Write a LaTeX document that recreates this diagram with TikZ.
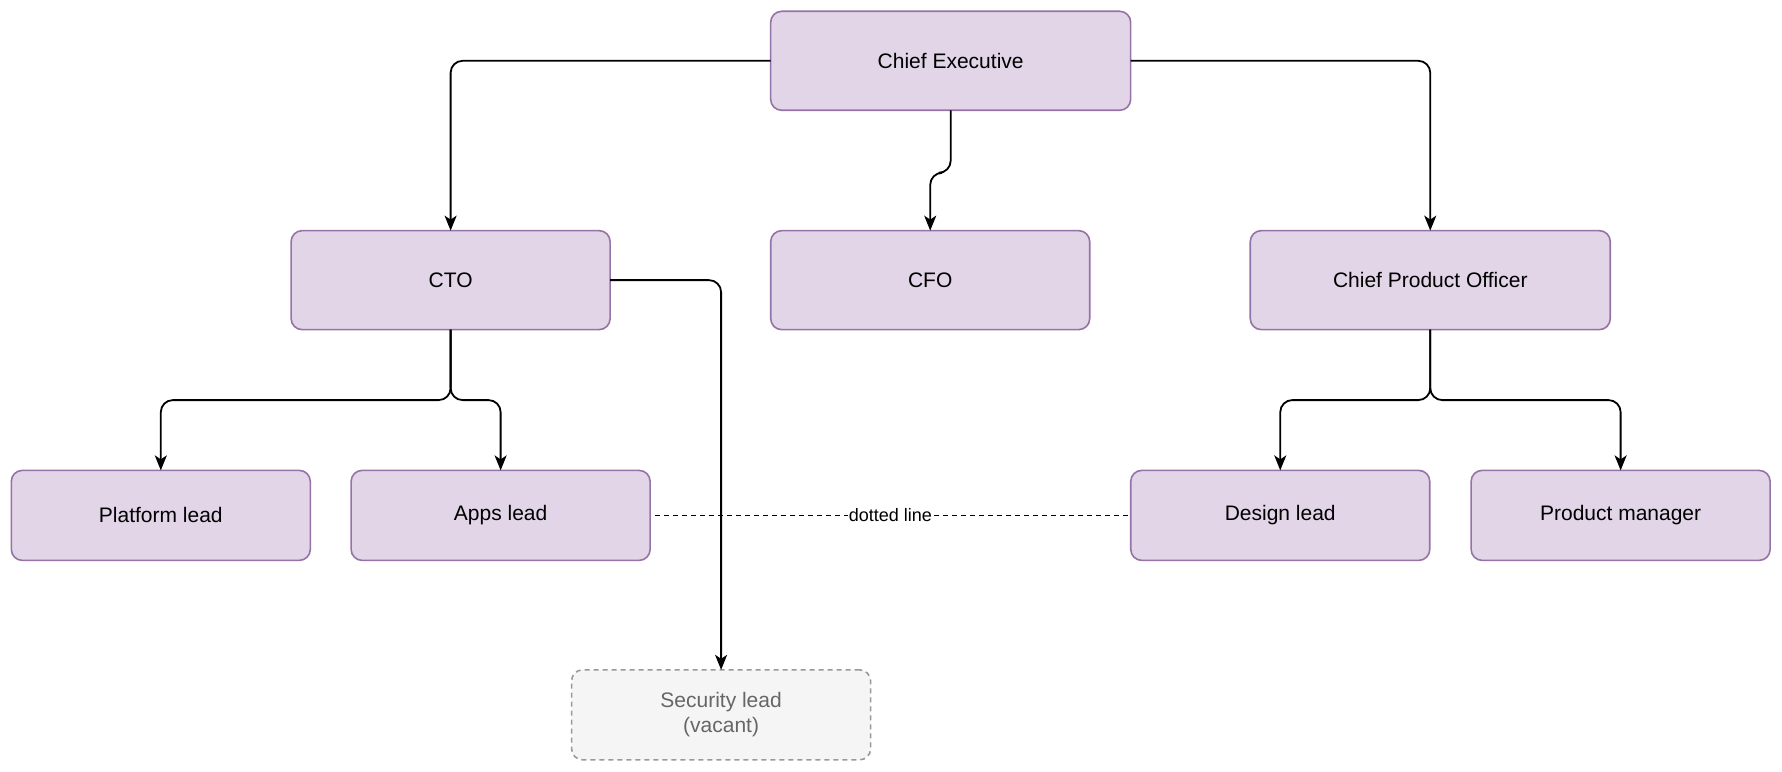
\documentclass[tikz,border=0pt]{standalone}
\usepackage{fontspec}
\setmainfont{Liberation Sans}
\usetikzlibrary{arrows.meta}
\definecolor{pfill}{HTML}{E1D5E7}
\definecolor{pdraw}{HTML}{9673A6}
\definecolor{gfill}{HTML}{F5F5F5}
\definecolor{gdraw}{HTML}{999999}
\definecolor{gtext}{HTML}{666666}
\begin{document}
\begin{tikzpicture}[x=1.1365pt,y=-1.1365pt,
  box/.style={draw=pdraw,fill=pfill,line width=1.6pt,rounded corners=11pt,inner sep=0pt,outer sep=0pt,
    font=\fontsize{21}{25}\selectfont,align=center},
  big/.style={box,minimum width=360pt,minimum height=99pt},
  mid/.style={box,minimum width=319pt,minimum height=99pt},
  leaf/.style={box,minimum width=299pt,minimum height=90pt},
  vac/.style={leaf,draw=gdraw,fill=gfill,text=gtext,dashed,dash pattern=on 5pt off 4pt},
  conn/.style={line width=1.8pt,rounded corners=12pt,-{Stealth[length=15pt,width=12pt,inset=4pt]}}]
\useasboundingbox (0,0) rectangle (1568,679);
\node[big] (ce) at (836.5,53.5) {Chief Executive};
\node[mid] (cto) at (396.5,246.5) {CTO};
\node[mid] (cfo) at (818.5,246.5) {CFO};
\node[big] (cpo) at (1258.5,246.5) {Chief Product Officer};
\node[leaf] (pl) at (141.5,453.5) {Platform lead};
\node[leaf] (al) at (440.5,453.5) {Apps lead};
\node[leaf] (dl) at (1126.5,453.5) {Design lead};
\node[leaf] (pm) at (1426,453.5) {Product manager};
\node[vac] (sl) at (634.5,629) {Security lead\\(vacant)};
\draw[conn] (ce.west) -| (cto.north);
\draw[conn] (ce.east) -| (cpo.north);
\draw[conn] (ce.south) -- ++(0,55) -| (cfo.north);
\draw[conn] (cto.south) -- ++(0,62) -| (pl.north);
\draw[conn] (cto.south) -- ++(0,62) -| (al.north);
\draw[conn] (cpo.south) -- ++(0,62) -| (dl.north);
\draw[conn] (cpo.south) -- ++(0,62) -| (pm.north);
\draw[conn] (cto.east) -| (sl.north);
\draw[line width=1.6pt,dashed,dash pattern=on 5pt off 4pt,shorten <=5pt] (al.east) -- (dl.west)
  node[pos=0.5,fill=white,inner sep=1pt,font=\fontsize{18}{20}\selectfont] (lbl) {dotted line};
\end{tikzpicture}
\end{document}
